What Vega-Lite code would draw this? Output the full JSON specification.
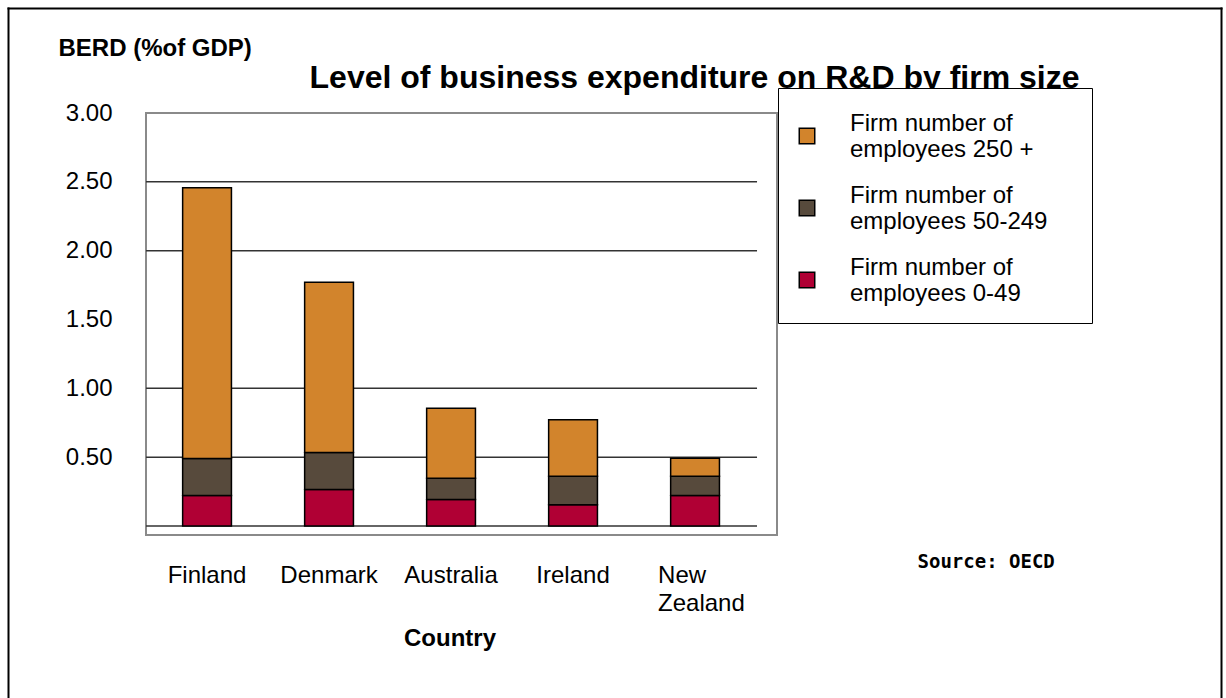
{
  "$schema": "https://vega.github.io/schema/vega-lite/v6.json",
  "width": 631,
  "height": 422,
  "autosize": {"type": "none"},
  "padding": {"left": 146, "top": 113, "right": 449, "bottom": 163},
  "background": "white",
  "config": {
    "font": "Liberation Sans",
    "view": {"stroke": "#8a8a8a", "strokeWidth": 2}
  },
  "data": {
    "values": [
      {"Country": "Finland", "Size": "Firm number of employees 0-49", "Value": 0.222},
      {"Country": "Finland", "Size": "Firm number of employees 50-249", "Value": 0.269},
      {"Country": "Finland", "Size": "Firm number of employees 250 +", "Value": 1.966},
      {"Country": "Denmark", "Size": "Firm number of employees 0-49", "Value": 0.265},
      {"Country": "Denmark", "Size": "Firm number of employees 50-249", "Value": 0.27},
      {"Country": "Denmark", "Size": "Firm number of employees 250 +", "Value": 1.236},
      {"Country": "Australia", "Size": "Firm number of employees 0-49", "Value": 0.193},
      {"Country": "Australia", "Size": "Firm number of employees 50-249", "Value": 0.155},
      {"Country": "Australia", "Size": "Firm number of employees 250 +", "Value": 0.507},
      {"Country": "Ireland", "Size": "Firm number of employees 0-49", "Value": 0.154},
      {"Country": "Ireland", "Size": "Firm number of employees 50-249", "Value": 0.208},
      {"Country": "Ireland", "Size": "Firm number of employees 250 +", "Value": 0.41},
      {"Country": "New Zealand", "Size": "Firm number of employees 0-49", "Value": 0.222},
      {"Country": "New Zealand", "Size": "Firm number of employees 50-249", "Value": 0.14},
      {"Country": "New Zealand", "Size": "Firm number of employees 250 +", "Value": 0.131}
    ]
  },
  "layer": [
    {
      "data": {"values": [{"Grid": 0}, {"Grid": 0.5}, {"Grid": 1}, {"Grid": 2}, {"Grid": 2.5}]},
      "mark": {"type": "rule", "color": "#333333", "strokeWidth": 1.5},
      "encoding": {
        "y": {"field": "Grid", "type": "quantitative", "scale": {"domain": [-0.065, 3], "nice": false, "zero": false}, "axis": null},
        "x": {
          "datum": "Finland",
          "type": "nominal",
          "bandPosition": -0.75,
          "scale": {
            "type": "band",
            "domain": ["Finland", "Denmark", "Australia", "Ireland", "New Zealand"],
            "paddingInner": 0.6,
            "paddingOuter": 0.386,
            "align": 0.389
          },
          "axis": null
        },
        "x2": {"datum": "New Zealand", "bandPosition": 1.77}
      }
    },
    {
      "transform": [
        {"calculate": "indexof(['Firm number of employees 0-49', 'Firm number of employees 50-249', 'Firm number of employees 250 +'], datum.Size)", "as": "StackOrder"}
      ],
      "mark": {"type": "bar", "stroke": "black", "strokeWidth": 1.5},
      "encoding": {
        "x": {
          "field": "Country",
          "type": "nominal",
          "sort": ["Finland", "Denmark", "Australia", "Ireland", "New Zealand"],
          "scale": {
            "type": "band",
            "domain": ["Finland", "Denmark", "Australia", "Ireland", "New Zealand"],
            "paddingInner": 0.6,
            "paddingOuter": 0.386,
            "align": 0.389
          },
          "axis": {
            "orient": "bottom",
            "title": "Country",
            "labelAngle": 0,
            "labelFontSize": 24,
            "labelPadding": 28,
            "labelLineHeight": 28,
            "labelColor": "black",
            "labelAlign": {"condition": {"test": "datum.label == 'New Zealand'", "value": "left"}, "value": "center"},
            "labelOffset": {"condition": {"test": "datum.label == 'New Zealand'", "value": -37}, "value": 0},
            "labelExpr": "datum.label == 'New Zealand' ? ['New', 'Zealand'] : datum.label",
            "ticks": false,
            "domain": false,
            "grid": false,
            "titleFontSize": 24,
            "titleFontWeight": "bold",
            "titleColor": "black",
            "titleX": 303.5,
            "titleY": 110,
            "titleAlign": "center",
            "titleBaseline": "alphabetic"
          }
        },
        "y": {
          "field": "Value",
          "type": "quantitative",
          "stack": "zero",
          "scale": {"domain": [-0.065, 3], "nice": false, "zero": false},
          "axis": {
            "orient": "left",
            "values": [0.5, 1, 1.5, 2, 2.5, 3],
            "format": ".2f",
            "labelFontSize": 24,
            "labelPadding": 34,
            "labelColor": "black",
            "ticks": false,
            "domain": false,
            "grid": false,
            "title": "BERD (%of GDP)",
            "titleAngle": 0,
            "titleFontSize": 24,
            "titleFontWeight": "bold",
            "titleColor": "black",
            "titleX": -88,
            "titleY": -58,
            "titleAlign": "left",
            "titleBaseline": "alphabetic"
          }
        },
        "order": {"field": "StackOrder", "type": "quantitative", "sort": "ascending"},
        "color": {
          "field": "Size",
          "type": "nominal",
          "sort": ["Firm number of employees 250 +", "Firm number of employees 50-249", "Firm number of employees 0-49"],
          "scale": {
            "domain": ["Firm number of employees 250 +", "Firm number of employees 50-249", "Firm number of employees 0-49"],
            "range": ["#D2842C", "#574A3C", "#B00034"]
          },
          "legend": {
            "orient": "none",
            "legendX": 632,
            "legendY": -25,
            "zindex": 2,
            "title": "\u200b",
            "titleFontSize": 4,
            "titlePadding": 15,
            "direction": "vertical",
            "fillColor": "white",
            "strokeColor": "black",
            "padding": 17,
            "symbolType": "square",
            "symbolSize": 240,
            "symbolStrokeColor": "black",
            "symbolStrokeWidth": 1.5,
            "symbolOpacity": 1,
            "labelFontSize": 24,
            "labelColor": "black",
            "labelOffset": 31,
            "labelLimit": 0,
            "labelBaseline": "bottom",
            "rowPadding": 22,
            "labelExpr": "['Firm number of', replace(datum.label, 'Firm number of ', '') + '\u00a0\u00a0\u00a0\u00a0\u200b']"
          }
        }
      }
    },
    {
      "mark": {"type": "point", "opacity": 0},
      "encoding": {
        "x": {
          "field": "Value",
          "type": "quantitative",
          "scale": {"range": [-138, 1075]},
          "axis": {
            "orient": "top",
            "offset": 105,
            "labels": false,
            "ticks": false,
            "grid": false,
            "domain": true,
            "domainColor": "black",
            "domainWidth": 2,
            "domainCap": "square",
            "title": "Level of business expenditure on R&D by firm size",
            "titleFontSize": 32,
            "titleFontWeight": "bold",
            "titleColor": "black",
            "titleX": 548,
            "titleY": 79,
            "titleAlign": "center",
            "titleBaseline": "alphabetic"
          }
        },
        "y": {
          "field": "Value",
          "type": "quantitative",
          "scale": {"range": [590, -105]},
          "axis": {
            "orient": "right",
            "offset": 444,
            "labels": false,
            "ticks": false,
            "grid": false,
            "domain": true,
            "domainColor": "black",
            "domainWidth": 2,
            "domainCap": "square",
            "title": "Source: OECD",
            "titleAngle": 0,
            "titleX": -304,
            "titleY": 454,
            "titleAlign": "left",
            "titleBaseline": "alphabetic",
            "titleFont": "DejaVu Sans Mono",
            "titleFontWeight": "bold",
            "titleFontSize": 19,
            "titleColor": "black"
          }
        }
      }
    },
    {
      "mark": {"type": "point", "opacity": 0},
      "encoding": {
        "y": {
          "field": "Value",
          "type": "quantitative",
          "scale": {"range": [590, -105]},
          "axis": {
            "orient": "left",
            "offset": 138,
            "labels": false,
            "ticks": false,
            "grid": false,
            "domain": true,
            "domainColor": "black",
            "domainWidth": 2,
            "domainCap": "square",
            "title": null
          }
        }
      }
    }
  ],
  "resolve": {
    "scale": {"x": "independent", "y": "independent"},
    "axis": {"x": "independent", "y": "independent"}
  }
}
